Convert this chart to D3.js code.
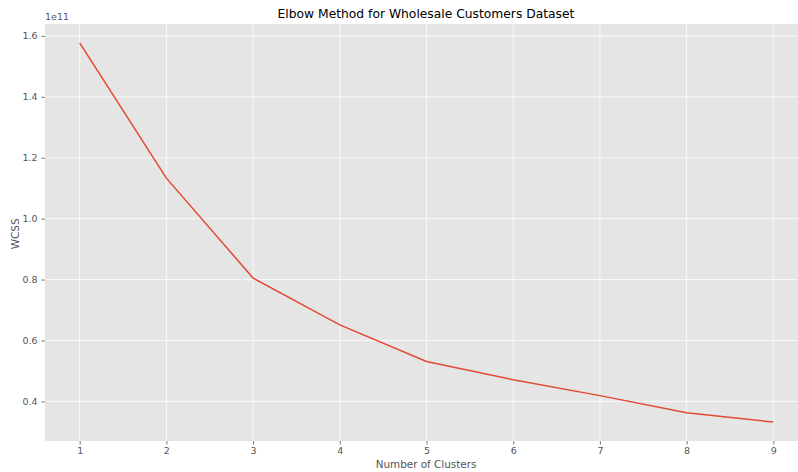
<!DOCTYPE html>
<html>
<head>
<meta charset="utf-8">
<script src="https://cdn.jsdelivr.net/npm/d3@7"></script>
<style>
  body { margin: 0; background: #fff; }
  svg { display: block; }
  text { font-family: "DejaVu Sans", sans-serif; }
</style>
</head>
<body>
<div class="chart"></div>
<script>
// cluster count vs within-cluster sum of squares (in units of 1e11)
var clusters = [1, 2, 3, 4, 5, 6, 7, 8, 9];
var wcss = [1.577, 1.133, 0.805, 0.651, 0.531, 0.471, 0.419, 0.363, 0.332];
var yTicks = [0.4, 0.6, 0.8, 1.0, 1.2, 1.4, 1.6];

var width = 798, height = 472;
var margin = {top: 24, right: -10, bottom: 31, left: 45};

var svg = d3.select(".chart").append("svg")
	.attr("width", width)
	.attr("height", height);

var x = d3.scaleLinear()
	.domain([0.6, 9.4])
	.range([margin.left, width - margin.right]);

var y = d3.scaleLinear()
	.domain([0.270, 1.639])
	.range([height - margin.bottom, margin.top]);

// plot background
svg.append("rect")
	.attr("x", margin.left)
	.attr("y", margin.top)
	.attr("width", width - margin.left)
	.attr("height", height - margin.bottom - margin.top)
	.attr("fill", "#e5e5e5");

// grid
svg.append("g")
	.selectAll("line")
	.data(clusters)
	.enter().append("line")
	.attr("x1", function(d) { return x(d); })
	.attr("x2", function(d) { return x(d); })
	.attr("y1", margin.top)
	.attr("y2", height - margin.bottom)
	.attr("stroke", "#fff")
	.attr("stroke-width", 0.8);

svg.append("g")
	.selectAll("line")
	.data(yTicks)
	.enter().append("line")
	.attr("x1", margin.left)
	.attr("x2", width)
	.attr("y1", function(d) { return y(d); })
	.attr("y2", function(d) { return y(d); })
	.attr("stroke", "#fff")
	.attr("stroke-width", 0.8);

// axes
var xAxis = svg.append("g")
	.attr("transform", "translate(0," + (height - margin.bottom) + ")")
	.call(d3.axisBottom(x).tickValues(clusters).tickFormat(d3.format("d")).tickSize(3.5).tickPadding(3));

var yAxis = svg.append("g")
	.attr("transform", "translate(" + margin.left + ",0)")
	.call(d3.axisLeft(y).tickValues(yTicks).tickFormat(d3.format(".1f")).tickSize(3.5).tickPadding(4));

[xAxis, yAxis].forEach(function(a) {
	a.select(".domain").remove();
	a.selectAll(".tick line").attr("stroke", "#555").attr("stroke-width", 0.8);
	a.selectAll(".tick text")
		.attr("fill", "#555")
		.attr("font-size", 9.5)
		.attr("font-family", "DejaVu Sans, sans-serif");
});

// offset text
svg.append("text")
	.attr("x", margin.left)
	.attr("y", 20)
	.attr("font-size", 9.5)
	.attr("fill", "#555")
	.text("1e11");

// the line
var line = d3.line()
	.x(function(d, i) { return x(clusters[i]); })
	.y(function(d) { return y(d); });

svg.append("path")
	.datum(wcss)
	.attr("d", line)
	.attr("fill", "none")
	.attr("stroke", "#e24a33")
	.attr("stroke-width", 1.5);

// title and labels
svg.append("text")
	.attr("x", 426)
	.attr("y", 18)
	.attr("text-anchor", "middle")
	.attr("font-size", 12.3)
	.attr("fill", "#000")
	.text("Elbow Method for Wholesale Customers Dataset");

svg.append("text")
	.attr("x", 426)
	.attr("y", 468)
	.attr("text-anchor", "middle")
	.attr("font-size", 10.4)
	.attr("fill", "#555")
	.text("Number of Clusters");

svg.append("text")
	.attr("transform", "translate(19," + y(0.95) + ") rotate(-90)")
	.attr("text-anchor", "middle")
	.attr("font-size", 10.4)
	.attr("fill", "#555")
	.text("WCSS");
</script>
</body>
</html>
